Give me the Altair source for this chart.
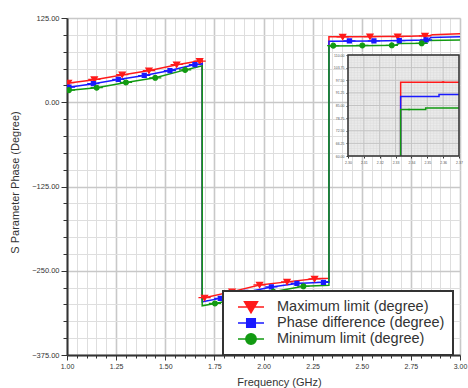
import altair as alt
import pandas as pd

SERIES = ["Maximum limit (degree)", "Phase difference (degree)", "Minimum limit (degree)"]
COLORS = ["#ff1a1a", "#1a1aff", "#129a12"]
SHAPES = [
    "M-1,0L1,0M-0.5,-0.4L0.5,-0.4L0,0.45Z",
    "M-1,0L1,0M-0.33,-0.33L0.33,-0.33L0.33,0.33L-0.33,0.33Z",
    "M-1,0L1,0M-0.4,0A0.4,0.4,0,1,1,0.4,0A0.4,0.4,0,1,1,-0.4,0Z",
]

# ---- main curves (line vertices) ----
max_f = [1.00, 1.14, 1.28, 1.42, 1.56, 1.688, 1.688, 1.70, 1.84, 1.98, 2.12, 2.26, 2.333, 2.333, 2.47, 2.60, 2.74, 2.84, 2.86, 3.00]
max_v = [28, 33.5, 40.5, 47, 55.5, 62, -292, -290, -281, -271, -266.5, -262, -261, 97, 97, 97.5, 98, 98.5, 100, 101.5]
pha_f = [1.00, 1.134, 1.261, 1.393, 1.524, 1.651, 1.688, 1.688, 1.78, 1.91, 2.04, 2.17, 2.305, 2.333, 2.333, 2.56, 2.70, 2.84, 2.85, 3.00]
pha_v = [22, 27.5, 33.8, 39.7, 47, 55.9, 57.5, -296, -291, -282, -274, -269, -267, -266, 90.5, 91, 91.5, 92.5, 96, 97]
min_f = [1.00, 1.151, 1.30, 1.449, 1.601, 1.688, 1.688, 1.753, 1.90, 2.05, 2.203, 2.333, 2.333, 2.50, 2.67, 2.69, 2.82, 2.84, 3.00]
min_v = [17.5, 21.6, 29.4, 36.3, 48, 54, -302, -298.5, -290, -281, -273, -271.5, 83.5, 84, 84.5, 87, 87.5, 91.5, 92.5]

# ---- main markers ----
max_mf = [1.007, 1.139, 1.281, 1.417, 1.558, 1.675, 1.70, 1.84, 1.98, 2.12, 2.26, 2.403, 2.542, 2.683, 2.822]
max_mv = [29, 34, 41, 47, 56, 61, -290, -281, -271, -266.5, -262, 97, 97.5, 97.5, 98.5]
pha_mf = [1.01, 1.134, 1.261, 1.393, 1.524, 1.651, 1.78, 1.91, 2.04, 2.17, 2.305, 2.437, 2.562, 2.691, 2.827]
pha_mv = [22.5, 27.5, 33.8, 39.7, 47, 55.9, -291, -282, -274, -268.7, -267.2, 91, 91, 91.5, 92.5]
min_mf = [1.01, 1.151, 1.30, 1.449, 1.601, 1.753, 1.90, 2.05, 2.203, 2.355, 2.503, 2.653, 2.805]
min_mv = [18, 21.6, 29.4, 36.3, 48, -298.5, -290, -281, -273, 84, 84.3, 84.5, 87.5]

# ---- inset (zoom of the jump near 2.33 GHz) ----
ins_max_f = [2.3332, 2.3332, 2.37]
ins_max_v = [60, 96.5, 96.5]
ins_pha_f = [2.3332, 2.3332, 2.3574, 2.3574, 2.37]
ins_pha_v = [60, 89.5, 89.5, 90.5, 90.5]
ins_min_f = [2.3332, 2.3332, 2.349, 2.349, 2.37]
ins_min_v = [60, 83, 83, 83.75, 83.75]
ins_mark_s = [SERIES[0], SERIES[2]]
ins_mark_f = [2.36, 2.3385]
ins_mark_v = [96.5, 83]

# ---- axis ticks ----
x_ticks = [round(1.0 + 0.05 * k, 2) for k in range(41)]
y_ticks = [-375 + 25 * k for k in range(21)]
ins_x_ticks = [2.30, 2.31, 2.32, 2.33, 2.34, 2.35, 2.36, 2.37]
ins_y_ticks = [60, 66.25, 72.5, 78.75, 85, 91.25, 97.5, 103.75, 110]
ins_x_minor = [round(2.30 + 0.002 * k, 3) for k in range(36)]
ins_y_minor = [60 + 1.25 * k for k in range(41)]


def frame(names, fs, vs):
    rows = []
    for name, f, v in zip(names, fs, vs):
        for i, (a, b) in enumerate(zip(f, v)):
            rows.append({"s": name, "f": a, "v": b, "i": i})
    return pd.DataFrame(rows)


lines_df = frame(SERIES, [max_f, pha_f, min_f], [max_v, pha_v, min_v])
marks_df = frame(SERIES, [max_mf, pha_mf, min_mf], [max_mv, pha_mv, min_mv])
ins_lines_df = frame(SERIES, [ins_max_f, ins_pha_f, ins_min_f], [ins_max_v, ins_pha_v, ins_min_v])
ins_marks_df = pd.DataFrame({"s": ins_mark_s, "f": ins_mark_f, "v": ins_mark_v})

W, H = 393, 337

major_x = "abs(datum.value*4 - round(datum.value*4)) < 0.001"
major_y = "datum.value % 125 == 0"

x_axis = alt.Axis(
    values=x_ticks,
    labelExpr=f"{major_x} ? format(datum.value, '.2f') : ''",
    labelOverlap=False, labelFlush=False,
    labelFontSize=7, labelColor="#333", labelPadding=2,
    tickSize={"condition": {"test": major_x, "value": 5}, "value": 3},
    tickColor="#333", tickWidth=1,
    gridColor={"condition": {"test": major_x, "value": "#c8c8c8"}, "value": "#dedede"},
    gridWidth={"condition": {"test": major_x, "value": 1.6}, "value": 1},
    domainColor="#333", domainWidth=2,
    title="Frequency (GHz)", titleFontSize=11, titleFontWeight="normal", titleColor="#333",
    titleX=212, titleY=27, titleBaseline="middle", titleAlign="center",
)
y_axis = alt.Axis(
    values=y_ticks,
    labelExpr=f"{major_y} ? format(datum.value, '.2f') : ''",
    labelOverlap=False, labelFlush=False,
    labelFontSize=7.5, labelColor="#333", labelPadding=2,
    tickSize={"condition": {"test": major_y, "value": 6}, "value": 4},
    tickColor="#333", tickWidth=1,
    gridColor={"condition": {"test": major_y, "value": "#c8c8c8"}, "value": "#dedede"},
    gridWidth={"condition": {"test": major_y, "value": 1.6}, "value": 1},
    domainColor="#333", domainWidth=2,
    title="S Parameter Phase (Degree)", titleFontSize=11, titleFontWeight="normal", titleColor="#333",
    titleX=-52, titleY=164, titleBaseline="middle", titleAlign="center", titleAngle=270,
)

X = alt.X("f:Q", scale=alt.Scale(domain=[1.0, 3.0], nice=False, zero=False), axis=x_axis)
Y = alt.Y("v:Q", scale=alt.Scale(domain=[-375, 125], nice=False, zero=False), axis=y_axis)

legend = alt.Legend(
    orient="none", legendX=156, legendY=273, title=None,
    fillColor="white", strokeColor="#333", padding=8,
    symbolSize=676, symbolStrokeWidth=1.5, symbolOffset=6,
    labelFontSize=14.5, labelColor="#333", labelOffset=12, labelLimit=260,
    clipHeight=16, rowPadding=0,
)
stroke_scale = alt.Scale(domain=SERIES, range=COLORS)
shape_scale = alt.Scale(domain=SERIES, range=SHAPES)

main_lines = alt.Chart(lines_df).mark_line(strokeWidth=1.5, clip=True).encode(
    x=X, y=Y,
    stroke=alt.Stroke("s:N", scale=stroke_scale, legend=legend),
    order=alt.Order("i:Q"),
)
main_points = alt.Chart(marks_df).mark_point(filled=True, size=150, opacity=1, strokeWidth=1.2, clip=True).encode(
    x=X, y=Y,
    stroke=alt.Stroke("s:N", scale=stroke_scale, legend=legend),
    fill=alt.Fill("s:N", scale=stroke_scale, legend=legend),
    shape=alt.Shape("s:N", scale=shape_scale, legend=legend),
)
main = alt.layer(main_lines, main_points)

# ---- inset layers ----
ins_xs = alt.Scale(domain=[2.30, 2.37], range=[281, 392], nice=False, zero=False)
ins_ys = alt.Scale(domain=[60, 110], range=[138, 37], nice=False, zero=False)
ins_x_axis = alt.Axis(orient="bottom", offset=-(H - 138), values=ins_x_ticks, format=".2f",
                      labelFontSize=3.5, labelColor="#555", tickSize=2, tickColor="#333",
                      domain=False, grid=False, title=None, labelFlush=False, labelOverlap=False)
ins_y_axis = alt.Axis(orient="left", offset=-281, values=ins_y_ticks, format=".2f",
                      labelFontSize=3.5, labelColor="#555", tickSize=2, tickColor="#333",
                      domain=False, grid=False, title=None, labelFlush=False, labelOverlap=False)
ins_stroke = alt.Scale(domain=SERIES, range=COLORS)
ins_shape = alt.Scale(domain=SERIES, range=SHAPES)

ins_bg = alt.Chart(pd.DataFrame({"a": [0]})).mark_rect(color="#ebebeb").encode(
    x=alt.X(datum=2.30, scale=ins_xs, axis=ins_x_axis), x2=alt.X2(datum=2.37),
    y=alt.Y(datum=60, scale=ins_ys, axis=ins_y_axis), y2=alt.Y2(datum=110),
)
ins_vminor = alt.Chart(pd.DataFrame({"g": ins_x_minor})).mark_rule(color="#dadada", strokeWidth=0.5).encode(
    x=alt.X("g:Q", scale=ins_xs, axis=ins_x_axis),
    y=alt.Y(datum=60, scale=ins_ys, axis=ins_y_axis), y2=alt.Y2(datum=110),
)
ins_hminor = alt.Chart(pd.DataFrame({"g": ins_y_minor})).mark_rule(color="#dadada", strokeWidth=0.5).encode(
    y=alt.Y("g:Q", scale=ins_ys, axis=ins_y_axis),
    x=alt.X(datum=2.30, scale=ins_xs, axis=ins_x_axis), x2=alt.X2(datum=2.37),
)
ins_vmajor = alt.Chart(pd.DataFrame({"g": ins_x_ticks})).mark_rule(color="#c4c4c4", strokeWidth=1).encode(
    x=alt.X("g:Q", scale=ins_xs, axis=ins_x_axis),
    y=alt.Y(datum=60, scale=ins_ys, axis=ins_y_axis), y2=alt.Y2(datum=110),
)
ins_hmajor = alt.Chart(pd.DataFrame({"g": ins_y_ticks})).mark_rule(color="#c4c4c4", strokeWidth=1).encode(
    y=alt.Y("g:Q", scale=ins_ys, axis=ins_y_axis),
    x=alt.X(datum=2.30, scale=ins_xs, axis=ins_x_axis), x2=alt.X2(datum=2.37),
)
ins_lines = alt.Chart(ins_lines_df).mark_line(strokeWidth=1.5).encode(
    x=alt.X("f:Q", scale=ins_xs, axis=ins_x_axis),
    y=alt.Y("v:Q", scale=ins_ys, axis=ins_y_axis),
    stroke=alt.Stroke("s:N", scale=ins_stroke, legend=None),
    order=alt.Order("i:Q"),
)
ins_points = alt.Chart(ins_marks_df).mark_point(filled=True, size=12, opacity=1, strokeWidth=0.5).encode(
    x=alt.X("f:Q", scale=ins_xs, axis=ins_x_axis),
    y=alt.Y("v:Q", scale=ins_ys, axis=ins_y_axis),
    stroke=alt.Stroke("s:N", scale=ins_stroke, legend=None),
    fill=alt.Fill("s:N", scale=ins_stroke, legend=None),
    shape=alt.Shape("s:N", scale=ins_shape, legend=None),
)
ins_frame = alt.Chart(pd.DataFrame({"a": [0]})).mark_rect(fill=None, stroke="#333", strokeWidth=1.5, fillOpacity=0).encode(
    x=alt.X(datum=2.30, scale=ins_xs, axis=ins_x_axis), x2=alt.X2(datum=2.37),
    y=alt.Y(datum=60, scale=ins_ys, axis=ins_y_axis), y2=alt.Y2(datum=110),
)
inset = alt.layer(ins_bg, ins_vminor, ins_hminor, ins_vmajor, ins_hmajor, ins_lines, ins_points, ins_frame)

chart = alt.layer(main, inset).resolve_scale(
    x="independent", y="independent", stroke="independent", fill="independent", shape="independent"
).resolve_legend(stroke="independent", fill="independent", shape="independent").properties(
    width=W, height=H,
    autosize=alt.AutoSizeParams(type="none"),
    padding={"left": 67, "top": 18, "right": 8, "bottom": 33},
).configure_view(stroke="#333", strokeWidth=1.5).configure(
    font="Liberation Sans", background="white"
).configure_legend(strokeWidth=2)

chart.save("out.html", embed_options={"renderer": "svg", "actions": False})
